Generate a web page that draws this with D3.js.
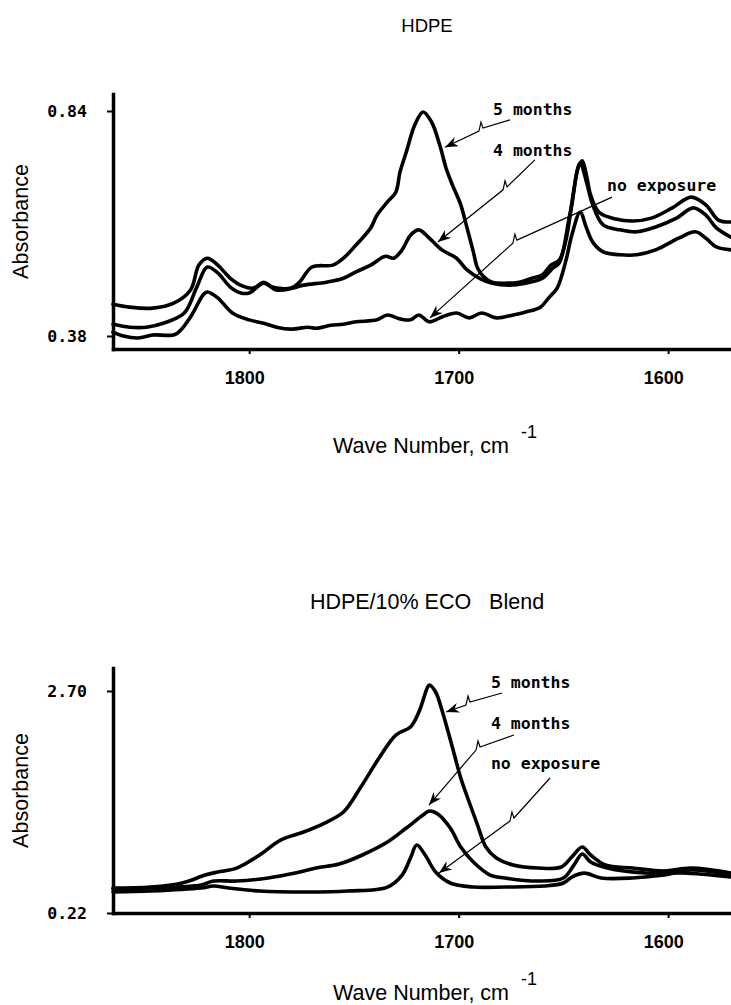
<!DOCTYPE html>
<html>
<head>
<meta charset="utf-8">
<script src="https://cdn.jsdelivr.net/npm/d3@7"></script>
<style>
  html, body { margin: 0; padding: 0; background: #fff; }
  svg { display: block; }
</style>
</head>
<body>
<svg id="fig" width="731" height="1005"></svg>
<script>
// Wavenumber axis shared by both panels (cm-1, decreasing to the right)
const waveTicks = [1800, 1700, 1600];
const waveDomain = [1865, 1570];

// HDPE film, absorbance spectra [wavenumber, absorbance]
const hdpeTicks = [0.84, 0.38];
const hdpe5 = [[1865,0.445],[1857,0.439],[1846,0.437],[1836,0.447],[1828,0.474],[1824,0.525],[1820,0.539],[1815,0.525],[1809,0.498],[1803,0.482],[1798,0.478],[1793,0.490],[1789,0.480],[1780,0.478],[1776,0.490],[1770,0.521],[1760,0.525],[1755,0.539],[1749,0.566],[1742,0.601],[1739,0.627],[1734,0.654],[1730,0.674],[1728,0.715],[1725,0.756],[1721,0.811],[1717,0.838],[1713,0.818],[1709,0.770],[1706,0.723],[1703,0.689],[1699,0.648],[1696,0.601],[1693,0.552],[1691,0.519],[1688,0.501],[1684,0.490],[1677,0.488],[1671,0.490],[1665,0.498],[1660,0.505],[1656,0.525],[1652,0.535],[1649,0.572],[1646,0.648],[1643,0.723],[1641,0.738],[1639,0.709],[1637,0.668],[1633,0.633],[1625,0.619],[1617,0.615],[1608,0.621],[1598,0.642],[1589,0.664],[1582,0.648],[1576,0.617],[1570,0.613]];
const hdpe4 = [[1865,0.404],[1857,0.398],[1849,0.398],[1841,0.406],[1831,0.427],[1825,0.480],[1820,0.521],[1815,0.509],[1809,0.480],[1804,0.468],[1800,0.468],[1793,0.488],[1787,0.474],[1779,0.478],[1774,0.484],[1763,0.490],[1755,0.498],[1749,0.511],[1742,0.525],[1735,0.543],[1731,0.539],[1727,0.556],[1723,0.586],[1719,0.597],[1714,0.580],[1708,0.556],[1701,0.539],[1696,0.515],[1690,0.498],[1684,0.488],[1676,0.484],[1668,0.488],[1660,0.498],[1655,0.519],[1652,0.529],[1647,0.627],[1642,0.734],[1639,0.695],[1636,0.648],[1631,0.607],[1623,0.597],[1615,0.593],[1606,0.603],[1596,0.621],[1588,0.642],[1582,0.627],[1577,0.601],[1570,0.582]];
const hdpe0 = [[1865,0.388],[1860,0.380],[1853,0.376],[1846,0.382],[1835,0.384],[1828,0.419],[1822,0.464],[1820,0.470],[1815,0.458],[1808,0.427],[1800,0.413],[1793,0.406],[1787,0.398],[1780,0.394],[1772,0.398],[1768,0.396],[1761,0.402],[1755,0.404],[1749,0.409],[1739,0.413],[1734,0.423],[1728,0.415],[1723,0.413],[1719,0.423],[1714,0.409],[1708,0.419],[1701,0.427],[1695,0.417],[1689,0.427],[1682,0.417],[1674,0.423],[1668,0.429],[1661,0.439],[1657,0.458],[1653,0.478],[1649,0.531],[1646,0.586],[1642,0.633],[1639,0.601],[1636,0.572],[1631,0.552],[1623,0.546],[1615,0.546],[1606,0.556],[1595,0.580],[1587,0.593],[1582,0.580],[1577,0.562],[1570,0.556]];

// HDPE/10% ECO blend, absorbance spectra [wavenumber, absorbance]
const blendTicks = [2.70, 0.22];
const blend5 = [[1865,0.499],[1847,0.510],[1832,0.555],[1821,0.644],[1815,0.678],[1806,0.722],[1795,0.868],[1785,1.035],[1774,1.125],[1764,1.225],[1755,1.348],[1747,1.616],[1738,1.951],[1730,2.208],[1723,2.298],[1719,2.465],[1715,2.734],[1714,2.767],[1711,2.689],[1708,2.488],[1705,2.242],[1702,1.985],[1699,1.728],[1695,1.460],[1691,1.203],[1687,0.957],[1682,0.834],[1674,0.756],[1662,0.722],[1651,0.734],[1646,0.845],[1641,0.957],[1637,0.868],[1630,0.756],[1617,0.722],[1602,0.689],[1589,0.722],[1570,0.666]];
const blend4 = [[1865,0.488],[1847,0.499],[1823,0.532],[1817,0.577],[1806,0.577],[1791,0.611],[1778,0.666],[1768,0.722],[1757,0.767],[1746,0.868],[1734,1.013],[1725,1.169],[1717,1.315],[1714,1.359],[1710,1.326],[1704,1.169],[1699,0.957],[1693,0.789],[1685,0.644],[1678,0.611],[1662,0.577],[1650,0.611],[1645,0.756],[1641,0.879],[1637,0.789],[1629,0.722],[1611,0.666],[1593,0.666],[1570,0.622]];
const blend0 = [[1865,0.454],[1847,0.465],[1823,0.499],[1817,0.521],[1810,0.499],[1795,0.465],[1772,0.454],[1753,0.465],[1734,0.510],[1727,0.644],[1723,0.834],[1720,0.979],[1716,0.868],[1711,0.678],[1704,0.555],[1693,0.510],[1678,0.510],[1659,0.521],[1650,0.555],[1646,0.622],[1640,0.666],[1632,0.611],[1617,0.611],[1602,0.644],[1589,0.700],[1570,0.644]];

const seriesLabels = ["5 months", "4 months", "no exposure"];

// Callouts in data units: label anchor, leader start, kink, arrow tip
const hdpeCallouts = [
  [[1683.6, 0.832], [1675.5, 0.822], [1688.4, 0.805], [1706.5, 0.766]],
  [[1683.6, 0.748], [1663.6, 0.740], [1676.9, 0.685], [1709.9, 0.572]],
  [[1629.2, 0.676], [1626.8, 0.664], [1672.2, 0.576], [1713.7, 0.417]]
];
const blendCallouts = [
  [[1684.6, 2.734], [1679.3, 2.678], [1694.6, 2.577], [1706.0, 2.465]],
  [[1684.6, 2.275], [1673.6, 2.208], [1689.8, 2.074], [1714.2, 1.426]],
  [[1684.6, 1.828], [1656.4, 1.728], [1673.6, 1.281], [1709.4, 0.666]]
];

const svg = d3.select("#fig");
svg.append("rect").attr("width", 731).attr("height", 1005).attr("fill", "#fff");

const defs = svg.append("defs");
defs.append("marker")
  .attr("id", "arrow")
  .attr("markerUnits", "userSpaceOnUse")
  .attr("markerWidth", 16).attr("markerHeight", 12)
  .attr("refX", 13).attr("refY", 5)
  .attr("orient", "auto")
  .append("path")
  .attr("d", "M0,0 L13,5 L0,10 L4,5 Z")
  .attr("fill", "#000");

const sansFont = "'Liberation Sans', Arial, sans-serif";
const monoFont = "'DejaVu Sans Mono', 'Liberation Mono', monospace";

function drawPanel(p) {
  const g = svg.append("g");
  const x = d3.scaleLinear().domain(waveDomain).range([p.left, 731]);
  const y = d3.scaleLinear().domain([p.yTicks[1], p.yTicks[0]]).range([p.yLowPx, p.yHighPx]);
  const yAxisScale = y.copy()
    .domain([y.invert(p.axisBottom), y.invert(p.axisTop)])
    .range([p.axisBottom, p.axisTop]);

  // title
  g.append("text")
    .attr("x", 427).attr("y", p.titleY)
    .attr("text-anchor", "middle")
    .attr("xml:space", "preserve")
    .style("white-space", "pre")
    .style("font-family", sansFont)
    .style("font-size", p.titleSize + "px")
    .text(p.title);

  // spectra
  const line = d3.line()
    .x(d => x(d[0]))
    .y(d => y(d[1]))
    .curve(d3.curveCatmullRom.alpha(0.5));
  g.selectAll("path.spec")
    .data(p.series)
    .join("path")
    .attr("class", "spec")
    .attr("d", line)
    .attr("fill", "none")
    .attr("stroke", "#000")
    .attr("stroke-width", 3.6)
    .attr("stroke-linejoin", "round")
    .attr("stroke-linecap", "round");

  // x axis
  const xa = g.append("g")
    .attr("transform", `translate(0,${p.axisBottom})`)
    .call(d3.axisBottom(x).tickValues(waveTicks).tickSize(5).tickSizeOuter(0).tickFormat(d3.format("d")));
  xa.select(".domain").attr("stroke-width", 3.5).attr("stroke-linecap", "square");
  xa.selectAll(".tick line").attr("stroke-width", 2);
  xa.selectAll(".tick text")
    .attr("y", p.xLabelOffset).attr("dy", "0.35em").attr("dx", -5)
    .style("font-family", sansFont)
    .style("font-weight", "bold")
    .style("font-size", "18px");

  // y axis
  const ya = g.append("g")
    .attr("transform", `translate(${p.left},0)`)
    .call(d3.axisLeft(yAxisScale).tickValues(p.yTicks).tickSize(6).tickSizeOuter(0).tickFormat(d3.format(".2f")));
  ya.select(".domain").attr("stroke-width", 3.5).attr("stroke-linecap", "square");
  ya.selectAll(".tick line").attr("stroke-width", 2);
  ya.selectAll(".tick text")
    .attr("x", -26).attr("dy", "0.35em")
    .style("font-family", monoFont)
    .style("font-weight", "bold")
    .style("font-size", "16.5px");

  // axis titles
  g.append("text")
    .attr("transform", `translate(28,${(p.axisTop + p.axisBottom) / 2}) rotate(-90)`)
    .attr("text-anchor", "middle")
    .style("font-family", sansFont)
    .style("font-size", "21.5px")
    .text("Absorbance");

  const xt = g.append("text")
    .attr("x", 333).attr("y", p.xTitleY)
    .style("font-family", sansFont)
    .style("font-size", "21.5px")
    .text("Wave Number, cm");
  xt.append("tspan")
    .attr("dx", 12).attr("dy", -15)
    .style("font-size", "18px")
    .text("-1");

  // callouts
  p.callouts.forEach((c, i) => {
    const [lab, s, k, t] = c.map(d => [x(d[0]), y(d[1])]);
    g.append("text")
      .attr("x", lab[0]).attr("y", lab[1])
      .style("font-family", monoFont)
      .style("font-weight", "bold")
      .style("font-size", "16.5px")
      .text(seriesLabels[i]);
    const pts = [s, k, [k[0] - 2, k[1] - 6], [k[0] - 4, k[1] + 3], t];
    g.append("path")
      .attr("d", d3.line()(pts))
      .attr("fill", "none")
      .attr("stroke", "#000")
      .attr("stroke-width", 1.2)
      .attr("marker-end", "url(#arrow)");
  });
}

drawPanel({
  title: "HDPE", titleY: 32, titleSize: 18.5,
  series: [hdpe5, hdpe4, hdpe0],
  yTicks: hdpeTicks, yHighPx: 111, yLowPx: 336,
  axisTop: 94, axisBottom: 349, left: 113,
  xLabelOffset: 29, xTitleY: 453,
  callouts: hdpeCallouts
});

drawPanel({
  title: "HDPE/10% ECO   Blend", titleY: 609, titleSize: 21.5,
  series: [blend5, blend4, blend0],
  yTicks: blendTicks, yHighPx: 691, yLowPx: 913,
  axisTop: 668, axisBottom: 913, left: 113,
  xLabelOffset: 29, xTitleY: 1000,
  callouts: blendCallouts
});
</script>
</body>
</html>
